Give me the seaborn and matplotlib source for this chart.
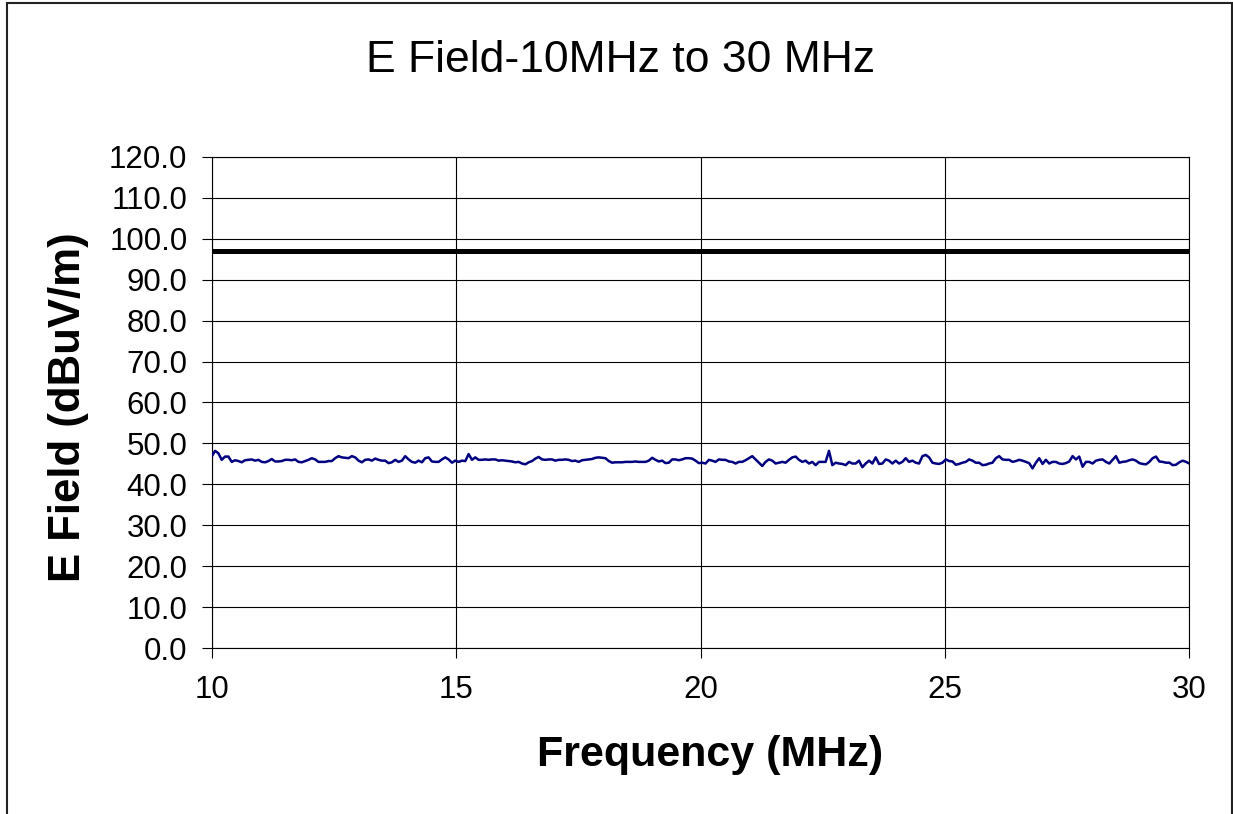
import numpy as np
import pandas as pd
import matplotlib
matplotlib.use("Agg")
import matplotlib.pyplot as plt
from matplotlib.patches import Rectangle
import seaborn as sns

# ── данные ──
FREQ_START = 10.0   # MHz
FREQ_STOP = 30.0    # MHz

# измеренное поле, dBuV/m (равномерная развёртка 10..30 MHz)
E_FIELD = [
    # 10.0 .. 15.0 MHz
    46.8, 48.2, 47.6, 46.0, 46.8, 46.8, 45.5, 45.9, 45.7, 45.4,
    45.9, 46.0, 46.1, 45.8, 46.0, 45.5, 45.4, 45.7, 46.2, 45.6,
    45.6, 45.7, 46.0, 46.0, 45.9, 46.1, 45.5, 45.4, 45.7, 46.0,
    46.4, 46.1, 45.5, 45.5, 45.5, 45.7, 45.7, 46.4, 46.9, 46.6,
    46.5, 46.4, 46.9, 46.6, 45.8, 45.4, 46.0, 46.1, 45.8, 46.3,
    46.0, 45.8, 45.8, 45.2, 45.4, 46.0, 45.5, 45.8, 46.9, 46.1,
    45.5, 45.3, 45.8, 45.4, 46.4, 46.6, 45.6, 45.5, 45.5, 46.1,
    46.6, 46.1, 45.3, 45.8,
    # 15.0 .. 20.0 MHz
    45.5, 45.8, 45.7, 47.4, 46.0, 46.6, 46.0, 46.0, 46.1, 46.0,
    46.1, 46.1, 45.8, 45.9, 45.8, 45.7, 45.6, 45.4, 45.5, 45.1,
    44.9, 45.4, 45.7, 46.3, 46.7, 46.1, 46.0, 46.1, 46.1, 45.8,
    46.0, 46.0, 46.1, 46.0, 45.7, 45.8, 45.5, 45.9, 46.0, 46.1,
    46.2, 46.5, 46.6, 46.5, 46.4, 45.7, 45.3, 45.4, 45.4, 45.4,
    45.5, 45.5, 45.5, 45.6, 45.5, 45.5, 45.5, 45.8, 46.5, 46.0,
    45.6, 45.8, 45.2, 45.3, 46.1, 46.1, 45.9, 46.1, 46.4, 46.4,
    46.3, 45.8, 45.2, 45.3,
    # 20.0 .. 25.0 MHz
    45.1, 46.0, 45.8, 45.5, 46.1, 46.0, 46.0, 45.6, 45.5, 45.1,
    45.5, 45.5, 45.9, 46.4, 46.9, 46.1, 45.3, 44.5, 45.5, 46.1,
    45.8, 45.1, 45.3, 45.5, 45.3, 46.0, 46.6, 46.8, 46.0, 45.5,
    45.8, 45.1, 45.5, 44.7, 45.5, 45.5, 45.5, 48.2, 44.7, 45.3,
    45.1, 45.0, 44.7, 45.5, 45.1, 45.1, 45.8, 44.2, 45.1, 45.8,
    45.1, 46.6, 45.0, 45.1, 46.1, 45.8, 45.1, 45.8, 45.1, 45.5,
    46.4, 45.5, 45.8, 45.3, 45.1, 46.9, 47.2, 46.6, 45.3, 45.1,
    45.0, 45.3, 46.1,
    # 25.0 .. 30.0 MHz
    45.7, 45.6, 44.8, 45.0, 45.3, 45.5, 46.1, 45.8, 45.3, 45.3,
    44.7, 44.8, 45.1, 45.3, 46.4, 46.9, 46.1, 46.0, 46.0, 45.5,
    45.7, 46.0, 45.8, 45.5, 45.2, 43.9, 45.3, 46.4, 45.0, 46.0,
    45.1, 45.5, 45.5, 45.1, 45.0, 45.2, 45.6, 46.9, 46.1, 46.8,
    44.3, 45.5, 45.5, 45.1, 45.8, 46.0, 46.1, 45.5, 45.1, 46.0,
    46.9, 45.3, 45.5, 45.6, 45.9, 46.1, 45.8, 45.2, 45.0, 44.9,
    45.5, 46.4, 46.8, 45.6, 45.5, 45.3, 45.3, 44.7, 44.8, 45.4,
    45.8, 45.5, 45.1,
]

# предельная линия
LIMIT_FREQ = [10.0, 30.0]
LIMIT_DB = [97.0, 97.0]

X_TICKS = [10, 15, 20, 25, 30]
Y_TICKS = [0, 10, 20, 30, 40, 50, 60, 70, 80, 90, 100, 110, 120]

TITLE = "E Field-10MHz to 30 MHz"
X_LABEL = "Frequency (MHz)"
Y_LABEL = "E Field (dBuV/m)"

# ── оформление ──
sns.set_style("white")
plt.rcParams["font.family"] = ["Liberation Sans", "DejaVu Sans"]
plt.rcParams["text.color"] = "black"
plt.rcParams["axes.labelcolor"] = "black"

freq = np.linspace(FREQ_START, FREQ_STOP, len(E_FIELD))
df = pd.DataFrame({"freq": freq, "efield": E_FIELD})
df_lim = pd.DataFrame({"freq": LIMIT_FREQ, "limit": LIMIT_DB})

fig = plt.figure(figsize=(12.33, 8.14), dpi=100)
ax = fig.add_axes([0.1717, 0.2036, 0.9646 - 0.1717, 0.8075 - 0.2036])

# сетка
for xv in X_TICKS:
    ax.axvline(xv, color="black", lw=0.8, zorder=1)
for yv in Y_TICKS:
    ax.axhline(yv, color="black", lw=0.8, zorder=1)

sns.lineplot(data=df_lim, x="freq", y="limit", ax=ax, color="black", lw=3.6, zorder=3)
sns.lineplot(data=df, x="freq", y="efield", ax=ax, color="#000080", lw=1.8, zorder=4)

ax.set_xlim(FREQ_START, FREQ_STOP)
ax.set_ylim(0, 120)
ax.set_xticks(X_TICKS)
ax.set_yticks(Y_TICKS)
ax.set_yticklabels([f"{v:.1f}" for v in Y_TICKS])
ax.tick_params(axis="x", direction="out", length=7, width=0.8, pad=12,
               labelsize=22.5, colors="black", bottom=True)
ax.tick_params(axis="y", direction="out", length=7, width=0.8, pad=10.5,
               labelsize=22.5, colors="black", left=True)

for sp in ax.spines.values():
    sp.set_color("black")
    sp.set_linewidth(0.8)

ax.set_xlabel(X_LABEL, fontsize=31, fontweight="bold", va="baseline")
ax.xaxis.set_label_coords(0.51, (648.3 - 766) / 491.6)
ax.set_ylabel(Y_LABEL, fontsize=31.5, fontweight="bold", va="baseline")
ax.yaxis.set_label_coords((80 - 211.7) / 977.6, 0.49)

fig.text(621 / 1233, 1 - 72 / 814, TITLE, fontsize=32, ha="center", va="baseline")

# рамка вокруг всей диаграммы
frame = Rectangle((7 / 1233, -0.02), (1232 - 7) / 1233, 1.02 - 3 / 814,
                  transform=fig.transFigure, fill=False, ec="#222222", lw=1.5)
fig.patches.append(frame)

plt.savefig("out.png", dpi=100)
